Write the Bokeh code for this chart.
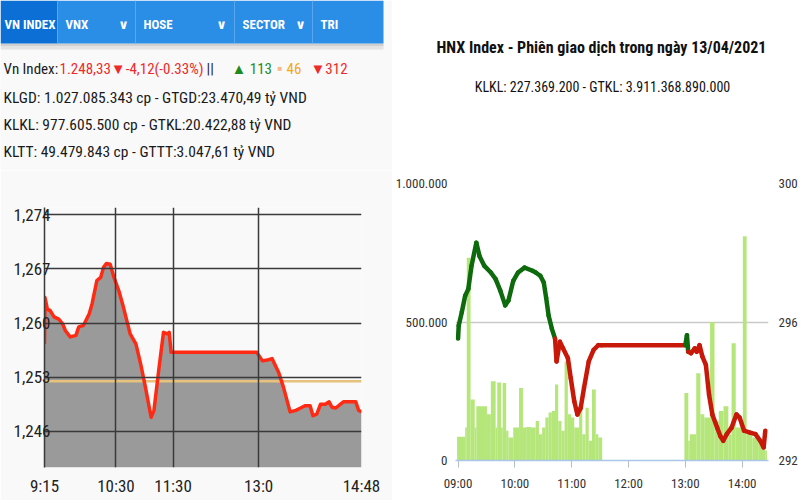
from bokeh.plotting import figure
from bokeh.layouts import row, column
from bokeh.models import Range1d, LinearAxis, FixedTicker, NumeralTickFormatter
from bokeh.core.properties import value
from bokeh.embed import file_html
from bokeh.resources import INLINE

FONT = "Roboto Condensed"

# ---------------- VN-Index panel (left) ----------------
vn_tabs = ["VN INDEX", "VNX", "HOSE", "SECTOR", "TRI"]
vn_headline = ["Vn Index: ", "1.248,33▼-4,12(-0.33%)", " ||", "▲ 113", "■", "46", "▼312"]
vn_info_lines = [
    "KLGD: 1.027.085.343 cp - GTGD:23.470,49 tỷ VND",
    "KLKL: 977.605.500 cp - GTKL:20.422,88 tỷ VND",
    "KLTT: 49.479.843 cp - GTTT:3.047,61 tỷ VND",
]
# minutes after 09:00
vn_minute = [15, 15.5, 18, 21, 25, 30, 34, 37, 42, 48, 51, 56, 62, 65, 70, 74, 77, 80, 84,
             88, 93, 98, 105, 111, 116, 121, 127, 130, 135, 140, 144, 146, 148, 238, 244,
             249, 254, 261, 266, 273, 279, 284, 289, 294, 297, 301, 305, 310, 314, 317,
             321, 326, 329, 342, 345, 348]
vn_value = [1257.3, 1263.3, 1261.8, 1261.6, 1260.8, 1260.5, 1259.9, 1259.0, 1258.2, 1258.4,
            1259.5, 1259.7, 1261.2, 1262.5, 1265.5, 1265.9, 1267.2, 1267.7, 1267.6, 1265.9,
            1264.2, 1262.0, 1258.6, 1257.3, 1254.7, 1251.7, 1247.8, 1248.7, 1253.9, 1258.8,
            1258.6, 1258.8, 1256.2, 1256.2, 1255.1, 1255.2, 1255.4, 1253.6, 1251.7, 1248.5,
            1248.7, 1249.0, 1249.3, 1249.3, 1248.0, 1248.2, 1249.5, 1249.5, 1249.8, 1249.1,
            1249.0, 1249.5, 1249.8, 1249.8, 1248.7, 1248.5]
vn_ref = 1252.45
vn_time_ticks = [15, 90, 150, 240, 348]
vn_time_labels = ["9:15", "10:30", "11:30", "13:0", "14:48"]
vn_value_ticks = [1246, 1253, 1260, 1267, 1274]

# ---------------- HNX-Index panel (right) ----------------
hnx_title = "HNX Index - Phiên giao dịch trong ngày 13/04/2021"
hnx_subtitle = "KLKL: 227.369.200 - GTKL: 3.911.368.890.000"
hnx_minute = [0, 0.7, 4, 7.5, 10.8, 14.2, 19.3, 22.7, 27.8, 34.6, 39.7, 44.7, 49.8, 53.2,
              58.3, 63.4, 70.2, 78.6, 82, 87, 90.5, 93, 95.6, 99, 102.4, 104, 107.5, 110.8,
              116, 119, 122.7, 126, 129.5, 133, 138, 143, 148, 151.5, 240, 241.7, 243, 246,
              250, 252, 255, 258, 261.7, 265, 268.5, 273.6, 277, 280, 283.7, 288.8, 293.9,
              297.3, 302, 307.5, 314, 319, 322.7, 324.4]
hnx_index = [295.52, 295.90, 296.29, 296.76, 296.95, 297.62, 298.29, 297.90, 297.62, 297.43,
             297.24, 296.90, 296.48, 296.62, 297.19, 297.43, 297.57, 297.48, 297.43, 297.33,
             297.14, 296.70, 296.19, 295.81, 295.52, 294.86, 295.43, 295.24, 294.95, 294.38,
             293.71, 293.33, 293.52, 294.10, 294.86, 295.19, 295.33, 295.33, 295.33, 295.62,
             295.14, 295.10, 295.24, 295.14, 295.33, 295.00, 294.76, 293.90, 293.33, 292.95,
             292.70, 292.57, 292.76, 292.95, 293.33, 293.24, 292.86, 292.81, 292.76, 292.57,
             292.38, 292.86]
hnx_ref = 295.55
hnx_bar_from = [-1.0, 7.5, 9.2, 13.2, 17.6, 19.3, 30.5, 34.6, 39.7, 41.4, 45.4, 47.1, 50.8,
                53.2, 58.3, 64.4, 68.5, 71.9, 76.9, 82.0, 85.4, 88.8, 92.2, 95.6, 99.0, 102.4,
                105.8, 109.2, 112.5, 115.9, 119.3, 122.7, 127.8, 131.2, 134.6, 138.0, 141.4,
                145.4, 148.1,
                239.0, 243.1, 244.7, 251.5, 255.9, 260.0, 266.1, 270.8, 275.3, 280.3, 285.4,
                288.8, 293.2, 300.7, 304.7, 310.8, 317.6, 324.4]
hnx_bar_to = [7.5, 9.2, 13.2, 17.6, 19.3, 30.5, 34.6, 39.7, 41.4, 45.4, 47.1, 50.8, 53.2,
              58.3, 64.4, 68.5, 71.9, 76.9, 82.0, 85.4, 88.8, 92.2, 95.6, 99.0, 102.4, 105.8,
              109.2, 112.5, 115.9, 119.3, 122.7, 127.8, 131.2, 134.6, 138.0, 141.4, 145.4,
              148.1, 152.2,
              243.1, 244.7, 251.5, 255.9, 260.0, 266.1, 270.8, 275.3, 280.3, 285.4, 288.8,
              293.2, 300.7, 304.7, 310.8, 317.6, 324.4, 326.1]
hnx_volume = [86000, 119000, 732000, 220000, 119000, 196000, 167000, 286000, 119000, 282000,
              119000, 280000, 107000, 83000, 119000, 262000, 119000, 121000, 119000, 143000,
              95000, 119000, 155000, 173000, 179000, 274000, 143000, 107000, 357000, 167000,
              155000, 119000, 190000, 95000, 190000, 71000, 256000, 95000, 83000,
              244000, 71000, 95000, 315000, 167000, 155000, 500000, 143000, 179000, 196000,
              95000, 423000, 119000, 810000, 95000, 83000, 60000, 36000]
hnx_time_ticks = [0, 60, 120, 180, 240, 300]
hnx_time_labels = ["09:00", "10:00", "11:00", "12:00", "13:00", "14:00"]
hnx_vol_ticks = [0, 500000, 1000000]
hnx_vol_labels = ["0", "500.000", "1.000.000"]
hnx_idx_ticks = [292, 296, 300]

LEFT_BG = "#f9f9f9"
LW, RW = 392, 408


def no_align(f):
    try:
        f.frame_align = False
    except Exception:
        pass
    return f


def blank(w, h, bg):
    f = figure(width=w, height=h, x_range=Range1d(0, w), y_range=Range1d(h, 0),
               toolbar_location=None, output_backend="svg", min_border=0,
               x_axis_location=None, y_axis_location=None,
               background_fill_color=bg, border_fill_color=bg, outline_line_color=None)
    f.grid.visible = False
    return no_align(f)


# ---------- left header ----------
hl = blank(LW, 170, LEFT_BG)
tab_edges = [0, 57, 135, 234, 312, 383]
tab_colors = ["#0b6fd6", "#2a8de6", "#2a8de6", "#2a8de6", "#2a8de6"]
hl.quad(left=[0], right=[tab_edges[-1]], top=[43], bottom=[46], fill_color="#cfcfcf",
        line_color=None)
hl.quad(left=[0], right=[tab_edges[-1]], top=[46], bottom=[49], fill_color="#e3e3e3",
        line_color=None)
hl.quad(left=tab_edges[:-1], right=tab_edges[1:], top=[0] * 5, bottom=[43] * 5,
        fill_color=tab_colors, line_color=None)
hl.segment(x0=tab_edges[1:-1], y0=[0] * 4, x1=tab_edges[1:-1], y1=[43] * 4,
           line_color="#5aa6ec", line_width=1)
hl.text(x=[4, 65, 143, 242, 320], y=[24] * 5, text=vn_tabs, text_color="white",
        text_font=value(FONT), text_font_style="bold", text_font_size="13px",
        text_baseline="middle", text_align="left")
hl.text(x=[123, 221, 300], y=[24] * 3, text=["∨", "∨", "∨"], text_color="white",
        text_font=value("DejaVu Sans"), text_font_style="bold", text_font_size="13px",
        text_baseline="middle", text_align="center")
head_x = [3, 59, 206, 231, 277, 286, 310]
head_colors = ["#1a1a1a", "#ee2a2a", "#1a1a1a", "#1f8a1f", "#f7b98a", "#f0a81c", "#ee2a2a"]
head_sizes = ["15px", "15px", "15px", "15px", "8px", "15px", "15px"]
hl.text(x=head_x, y=[68] * 7, text=vn_headline, text_color=head_colors,
        text_font=value(FONT), text_font_size=head_sizes,
        text_baseline="middle", text_align="left")
hl.text(x=[3, 3, 3], y=[97, 124, 151], text=vn_info_lines, text_color="#1a1a1a",
        text_font=value(FONT), text_font_size="15.5px",
        text_baseline="middle", text_align="left")

# ---------- left chart ----------
pl = figure(width=LW, height=330, x_range=Range1d(15, 348), y_range=Range1d(1241.3, 1274.95),
            toolbar_location=None, output_backend="svg",
            min_border_left=44, min_border_right=31, min_border_top=37, min_border_bottom=33,
            background_fill_color=LEFT_BG, border_fill_color=LEFT_BG, outline_line_color=None)
no_align(pl)
base = pl.y_range.start
pl.varea(x=vn_minute, y1=[base] * len(vn_minute), y2=vn_value, fill_color="#9a9a9a")
pl.line(x=[pl.x_range.start, pl.x_range.end], y=[vn_ref, vn_ref], line_color="#e6c27c",
        line_width=2.5)
pl.line(x=vn_minute, y=vn_value, line_color="#ff2a14", line_width=3.5, line_join="round")

pl.xgrid.ticker = FixedTicker(ticks=vn_time_ticks)
pl.ygrid.ticker = FixedTicker(ticks=vn_value_ticks)
for g in (pl.xgrid, pl.ygrid):
    g.grid_line_color = "#3a3a3a"
    g.grid_line_width = 1.5
    g.level = "glyph"
pl.xaxis.ticker = FixedTicker(ticks=vn_time_ticks)
pl.xaxis.major_label_overrides = dict(zip(vn_time_ticks, vn_time_labels))
pl.xaxis.axis_line_color = None
pl.yaxis.ticker = FixedTicker(ticks=vn_value_ticks)
pl.yaxis.formatter = NumeralTickFormatter(format="0,0")
pl.yaxis.axis_line_color = "#3a3a3a"
pl.yaxis.axis_line_width = 1.5
for ax in (pl.xaxis, pl.yaxis):
    ax.major_tick_line_color = None
    ax.minor_tick_line_color = None
    ax.major_tick_out = 0
    ax.major_tick_in = 0
    ax.major_label_text_font = FONT
    ax.major_label_text_font_size = "17px"
    ax.major_label_text_color = "#222222"
pl.xaxis.major_label_standoff = 8
pl.yaxis.major_label_standoff = -6

# ---------- right header ----------
hr = blank(RW, 130, "white")
hr.text(x=[209], y=[47], text=[hnx_title], text_color="#111111", text_font=value(FONT),
        text_font_style="bold", text_font_size="16px", text_baseline="middle",
        text_align="center")
hr.text(x=[210], y=[86], text=[hnx_subtitle], text_color="#111111", text_font=value(FONT),
        text_font_size="14px", text_baseline="middle", text_align="center")

# ---------- right chart ----------
pr = figure(width=RW, height=370, x_range=Range1d(-2.7, 327.8), y_range=Range1d(0, 1000000),
            toolbar_location=None, output_backend="svg",
            min_border_left=55, min_border_right=28, min_border_top=53, min_border_bottom=40,
            background_fill_color="white", border_fill_color="white", outline_line_color=None)
no_align(pr)
pr.extra_y_ranges = {"idx": Range1d(292, 300)}
pr.quad(left=hnx_bar_from, right=hnx_bar_to, bottom=0, top=hnx_volume,
        fill_color="#b4e67a", line_color=None)
seg_colors = ["#0d6b0d" if max(a, b) >= hnx_ref else "#c8180a"
              for a, b in zip(hnx_index[:-1], hnx_index[1:])]
pr.segment(x0=hnx_minute[:-1], y0=hnx_index[:-1], x1=hnx_minute[1:], y1=hnx_index[1:],
           line_color=seg_colors, line_width=4.5, line_cap="round", y_range_name="idx")

pr.xgrid.visible = False
pr.ygrid.ticker = FixedTicker(ticks=hnx_vol_ticks)
pr.ygrid.grid_line_color = "#c9c9c9"
pr.ygrid.grid_line_width = 1.5
pr.xaxis.ticker = FixedTicker(ticks=hnx_time_ticks)
pr.xaxis.major_label_overrides = dict(zip(hnx_time_ticks, hnx_time_labels))
pr.xaxis.axis_line_color = "#a9c6e8"
pr.xaxis.axis_line_width = 1.5
pr.xaxis.major_tick_line_color = "#b4bfcc"
pr.xaxis.major_tick_out = 7
pr.xaxis.major_tick_in = 0
pr.xaxis.minor_tick_line_color = None
pr.xaxis.major_label_standoff = 8
pr.yaxis.ticker = FixedTicker(ticks=hnx_vol_ticks)
pr.yaxis.major_label_overrides = dict(zip(hnx_vol_ticks, hnx_vol_labels))
pr.yaxis.axis_line_color = None
pr.yaxis.major_tick_line_color = None
pr.yaxis.minor_tick_line_color = None
pr.yaxis.major_tick_out = 0
pr.yaxis.major_label_standoff = 8
ax_r = LinearAxis(y_range_name="idx", ticker=FixedTicker(ticks=hnx_idx_ticks),
                  axis_line_color=None, major_tick_line_color=None,
                  minor_tick_line_color=None, major_tick_out=0, major_label_standoff=10)
pr.add_layout(ax_r, "right")
for ax in (pr.xaxis[0], pr.yaxis[0], ax_r):
    ax.major_label_text_font = FONT
    ax.major_label_text_font_size = "13px"
    ax.major_label_text_color = "#333333"

layout = row(column(hl, pl), column(hr, pr))
open("out.html", "w").write(file_html(layout, INLINE))
